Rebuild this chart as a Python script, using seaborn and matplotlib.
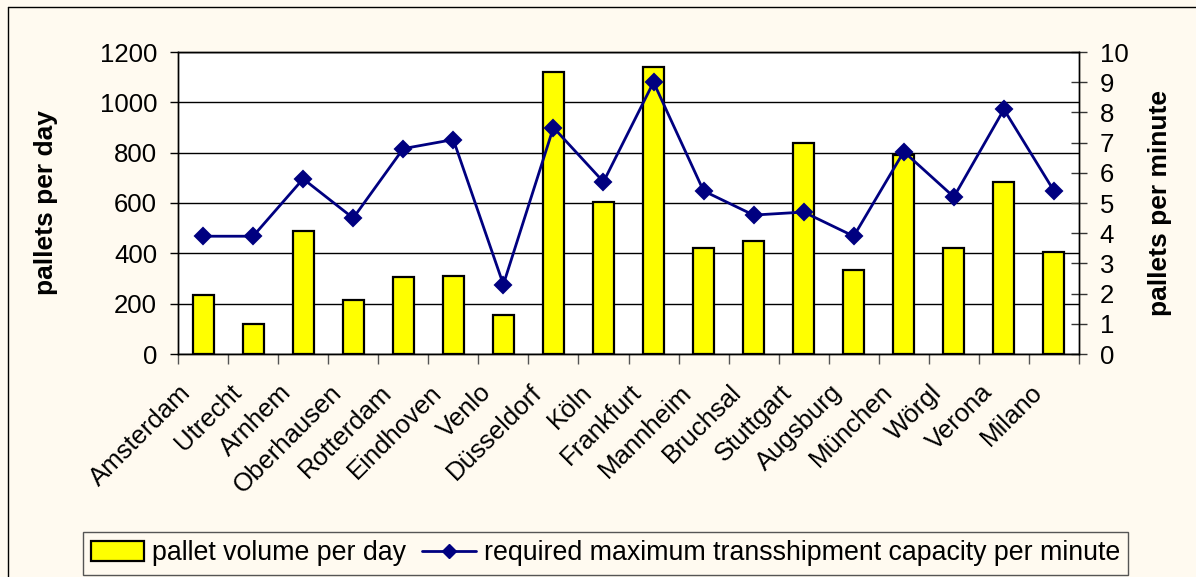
import matplotlib
matplotlib.use("Agg")
import matplotlib.pyplot as plt
from matplotlib.lines import Line2D
from matplotlib.ticker import FixedLocator, MultipleLocator
from matplotlib.transforms import ScaledTranslation
import numpy as np
import pandas as pd
import seaborn as sns

cities = ["Amsterdam", "Utrecht", "Arnhem", "Oberhausen", "Rotterdam", "Eindhoven",
          "Venlo", "Düsseldorf", "Köln", "Frankfurt", "Mannheim", "Bruchsal",
          "Stuttgart", "Augsburg", "München", "Wörgl", "Verona", "Milano"]
pallets_per_day = [235, 120, 490, 215, 305, 310, 155, 1120, 605, 1140, 420, 450,
                   840, 335, 790, 420, 685, 405]
pallets_per_minute = [3.9, 3.9, 5.8, 4.5, 6.8, 7.1, 2.3, 7.5, 5.7, 9.0, 5.4, 4.6,
                      4.7, 3.9, 6.7, 5.2, 8.1, 5.4]
left_ticks = [0, 200, 400, 600, 800, 1000, 1200]
right_ticks = list(range(0, 11))

bar_label = "pallet volume per day"
line_label = "required maximum transshipment capacity per minute"

df = pd.DataFrame({"city": cities, "day": pallets_per_day, "minute": pallets_per_minute})

sns.set_theme(style="white")
plt.rcParams["font.family"] = ["Liberation Sans", "DejaVu Sans"]
plt.rcParams.update({"text.color": "black", "axes.labelcolor": "black",
                     "xtick.color": "black", "ytick.color": "black"})

cream = "#FFFAF0"
fig = plt.figure(figsize=(11.96, 5.77), dpi=100, facecolor=cream)
ax = fig.add_axes([178 / 1196, 1 - 354 / 577, (1079 - 178) / 1196, (354 - 52) / 577])
ax.set_facecolor("white")

sns.barplot(data=df, x="city", y="day", ax=ax, color="#FFFF00", saturation=1,
            width=0.42, edgecolor="black", linewidth=1.6, order=cities)
ax.set_axisbelow(True)
ax.set_ylim(0, 1200)
ax.yaxis.set_major_locator(FixedLocator(left_ticks))
ax.grid(axis="y", color="black", linewidth=1.0)
ax.grid(axis="x", visible=False)
ax.set_xlim(-0.5, len(cities) - 0.5)
ax.set_xlabel("")
ax.set_ylabel("pallets per day", fontsize=19, fontweight="bold", labelpad=30)
ax.tick_params(axis="y", direction="out", length=6, width=1, color="black",
               labelsize=18.5, pad=9, left=True, labelcolor="black")
ax.xaxis.set_minor_locator(MultipleLocator(1, offset=0.5))
ax.tick_params(axis="x", which="major", length=0, labelsize=18.5, pad=8,
               labelcolor="black")
ax.tick_params(axis="x", which="minor", direction="out", length=7, width=1,
               color="#555555", bottom=True)
ax.set_xticks(range(len(cities)))
ax.set_xticklabels(cities, rotation=45, ha="right", rotation_mode="anchor")
shift = ScaledTranslation(-0.24, -0.15, fig.dpi_scale_trans)
for lbl in ax.get_xticklabels():
    lbl.set_transform(lbl.get_transform() + shift)
for s in ax.spines.values():
    s.set_color("black")
    s.set_linewidth(1.0)

ax2 = ax.twinx()
sns.pointplot(data=df, x="city", y="minute", ax=ax2, order=cities, color="#000080",
              markers="D", markersize=8, linewidth=2.0)
ax2.set_xlim(-0.5, len(cities) - 0.5)
ax2.set_ylim(0, 10)
ax2.yaxis.set_major_locator(FixedLocator(right_ticks))
ax2.set_ylabel("pallets per minute", fontsize=19, fontweight="bold", labelpad=14)
ax2.tick_params(axis="y", direction="inout", length=12, width=1, color="#333333",
                labelsize=18.5, pad=9, right=True, labelcolor="black")
ax2.grid(False)
ax2.patch.set_visible(False)
for s in ax2.spines.values():
    s.set_color("black")
    s.set_linewidth(1.0)

handles = [
    plt.Rectangle((0, 0), 1, 1, facecolor="#FFFF00", edgecolor="black", linewidth=1.6),
    Line2D([0], [0], color="#000080", linewidth=2.0, marker="D", markersize=7),
]
leg = fig.legend(handles, [bar_label, line_label], loc="center",
                 bbox_to_anchor=(0.5063, 1 - 553.5 / 577), ncol=2, fontsize=19.3,
                 frameon=True, fancybox=False, framealpha=1, facecolor=cream,
                 edgecolor="#555555", handlelength=2.0, handleheight=0.8,
                 handletextpad=0.3, columnspacing=0.6, borderpad=0.3)
leg.get_frame().set_linewidth(1.0)

# outer frame along the top and left edges
fig.add_artist(Line2D([8 / 1196, 1.0], [1 - 7 / 577, 1 - 7 / 577],
                      transform=fig.transFigure, color="black", linewidth=1.0))
fig.add_artist(Line2D([8 / 1196, 8 / 1196], [0.0, 1 - 7 / 577],
                      transform=fig.transFigure, color="black", linewidth=1.0))

fig.savefig("out.png", dpi=100, facecolor=cream)
